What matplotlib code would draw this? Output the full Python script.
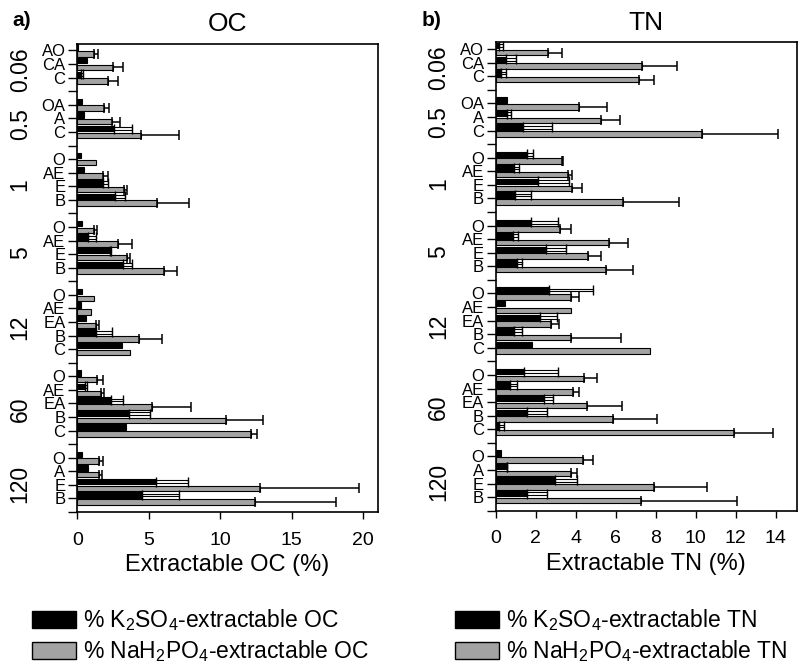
import numpy as np
import matplotlib
matplotlib.use('Agg')
import matplotlib.pyplot as plt
from matplotlib.patches import Patch
from matplotlib import transforms

plt.rcParams['font.family'] = ['Liberation Sans', 'DejaVu Sans']
plt.rcParams['mathtext.fontset'] = 'custom'
plt.rcParams['mathtext.rm'] = 'Liberation Sans'
plt.rcParams['mathtext.default'] = 'regular'

# ------------------------------------------------------------------------------
# Data
# ------------------------------------------------------------------------------
groups = ["0.06", "0.5", "1", "5", "12", "60", "120"]
horizons = [["AO", "CA", "C"],
            ["OA", "A", "C"],
            ["O", "AE", "E", "B"],
            ["O", "AE", "E", "B"],
            ["O", "AE", "EA", "B", "C"],
            ["O", "AE", "EA", "B", "C"],
            ["O", "A", "E", "B"]]

# OC (%)
oc_k2so4     = [0.05, 0.65, 0.26,  0.30, 0.49, 2.59,  0.28, 0.49, 1.82, 2.63,
                0.30, 0.77, 2.28, 3.22,  0.30, 0.23, 0.61, 1.28, 3.10,
                0.23, 0.56, 2.33, 3.64, 3.38,  0.30, 0.77, 5.50, 4.50]
oc_k2so4_err = [0.00, 0.00, 0.11,  0.00, 0.00, 1.26,  0.00, 0.00, 0.30, 0.70,
                0.00, 0.51, 0.07, 0.63,  0.00, 0.00, 0.00, 1.17, 0.00,
                0.00, 0.14, 0.89, 1.44, 0.00,  0.00, 0.00, 2.22, 2.61]
oc_nah2po4   = [1.20, 2.52, 2.17,  1.89, 2.45, 4.48,  1.30, 1.82, 3.26, 5.59,
                1.17, 2.87, 3.50, 6.08,  1.17, 0.93, 1.28, 4.34, 3.68,
                1.35, 1.65, 5.20, 10.44, 12.19,  1.52, 1.52, 12.77, 12.42]
oc_nah2po4_err = [0.22, 0.70, 0.65,  0.35, 0.53, 2.63,  0.00, 0.30, 0.24, 2.22,
                  0.23, 0.93, 0.18, 0.87,  0.00, 0.00, 0.26, 1.60, 0.00,
                  0.42, 0.21, 2.73, 2.56, 0.40,  0.30, 0.23, 6.93, 5.72]

# TN (%)
tn_k2so4     = [0.17, 0.52, 0.27,  0.55, 0.55, 1.35,  1.55, 0.92, 2.13, 0.97,
                1.77, 0.88, 2.52, 1.08,  2.67, 0.47, 2.22, 0.92, 1.83,
                1.42, 0.72, 2.42, 1.55, 0.18,  0.27, 0.55, 2.97, 1.55]
tn_k2so4_err = [0.18, 0.50, 0.25,  0.00, 0.22, 1.45,  0.30, 0.26, 1.55, 0.80,
                1.36, 0.25, 0.98, 0.25,  2.21, 0.00, 0.83, 0.38, 0.00,
                1.68, 0.33, 0.46, 1.00, 0.24,  0.00, 0.03, 1.11, 1.03]
tn_nah2po4   = [2.63, 7.33, 7.18,  4.18, 5.25, 10.30,  3.30, 3.63, 3.80, 6.35,
                3.22, 5.67, 4.63, 5.52,  3.77, 3.75, 2.77, 3.77, 7.72,
                4.43, 3.88, 4.58, 5.88, 11.93,  4.38, 3.75, 7.93, 7.25]
tn_nah2po4_err = [0.67, 1.75, 0.74,  1.40, 0.97, 3.83,  0.05, 0.17, 0.50, 2.83,
                  0.55, 0.93, 0.64, 1.33,  0.41, 0.00, 0.41, 2.48, 0.00,
                  0.65, 0.30, 1.75, 2.17, 1.92,  0.50, 0.30, 2.62, 4.80]

GRAY = '#a3a3a3'
BAR_H = 0.40
OFF = 0.25


def layout():
    pos, labels, ticks, centers = [], [], [], []
    i = 0
    for hz in horizons:
        first = i
        for h in hz:
            pos.append(i)
            labels.append(h)
            ticks.append(i)
            i += 1
        centers.append((first + i - 1) / 2 + 0.4)
        ticks.append(i)   # spacer tick, no label
        i += 1
    return np.array(pos, float), labels, ticks, centers, i - 1


def panel(ax, k, k_err, g, g_err, xmax, xticks, xlabel, title):
    pos, labels, ticks, centers, last = layout()
    k = np.array(k); k_err = np.array(k_err)
    g = np.array(g); g_err = np.array(g_err)
    yk = pos - OFF
    yg = pos + OFF

    ax.barh(yk, k, height=BAR_H, color='black', edgecolor='black', lw=0.8)
    ax.barh(yg, g, height=BAR_H, color=GRAY, edgecolor='black', lw=0.8)

    # hollow error bars of the black bars
    m = k_err > 0
    ax.barh(yk[m], k_err[m], left=k[m], height=0.2, color='white',
            edgecolor='black', lw=0.8)
    ax.errorbar(k[m], yk[m], xerr=[np.zeros(m.sum()), k_err[m]], fmt='none',
                ecolor='black', elinewidth=0, capsize=3.5, capthick=1.0)
    # error bars of the gray bars
    m = g_err > 0
    ax.errorbar(g[m], yg[m], xerr=[np.zeros(m.sum()), g_err[m]], fmt='none',
                ecolor='black', elinewidth=1.1, capsize=3.5, capthick=1.1)

    ax.set_ylim(last, -0.5)
    ax.set_xlim(0, xmax)
    ax.set_yticks(ticks)
    tl = []
    j = 0
    for t in ticks:
        if j < len(pos) and pos[j] == t:
            tl.append(labels[j]); j += 1
        else:
            tl.append('')
    ax.set_yticklabels(tl, fontsize=12)
    ax.set_xticks(xticks)
    ax.tick_params(axis='y', length=6.5, width=1.0, pad=2)
    ax.tick_params(axis='x', length=5, width=1.0, pad=9, labelsize=14)
    for s in ax.spines.values():
        s.set_linewidth(1.2)

    trans = transforms.blended_transform_factory(ax.transAxes, ax.transData)
    for name, c in zip(groups, centers):
        ax.text(-0.19, c, name, transform=trans, rotation=90, fontsize=16.5,
                ha='center', va='center')

    ax.set_xlabel(xlabel, fontsize=17, labelpad=4)
    ax.set_title(title, fontsize=19, pad=9)


fig = plt.figure(figsize=(8.06, 6.72), dpi=100)
ax1 = fig.add_axes([0.0959, 0.238, 0.373, 0.697])
ax2 = fig.add_axes([0.615, 0.240, 0.3735, 0.697])

panel(ax1, oc_k2so4, oc_k2so4_err, oc_nah2po4, oc_nah2po4_err,
      21.05, [0, 5, 10, 15, 20], 'Extractable OC (%)', 'OC')
panel(ax2, tn_k2so4, tn_k2so4_err, tn_nah2po4, tn_nah2po4_err,
      15.05, [0, 2, 4, 6, 8, 10, 12, 14], 'Extractable TN (%)', 'TN')

fig.text(0.015, 0.970, 'a)', fontsize=15, fontweight='bold', va='center')
fig.text(0.523, 0.970, 'b)', fontsize=15, fontweight='bold', va='center')

for x0, what in [(0.04, 'OC'), (0.565, 'TN')]:
    handles = [Patch(facecolor='black', edgecolor='black'),
               Patch(facecolor=GRAY, edgecolor='black')]
    names = [r'% K$_2$SO$_4$-extractable ' + what,
             r'% NaH$_2$PO$_4$-extractable ' + what]
    fig.legend(handles, names, loc='upper left', bbox_to_anchor=(x0, 0.096),
               frameon=False, fontsize=16.5, handlelength=1.9, handleheight=0.75,
               handletextpad=0.3, labelspacing=0.22, borderaxespad=0,
               borderpad=0)

fig.savefig('out.png', dpi=100)
